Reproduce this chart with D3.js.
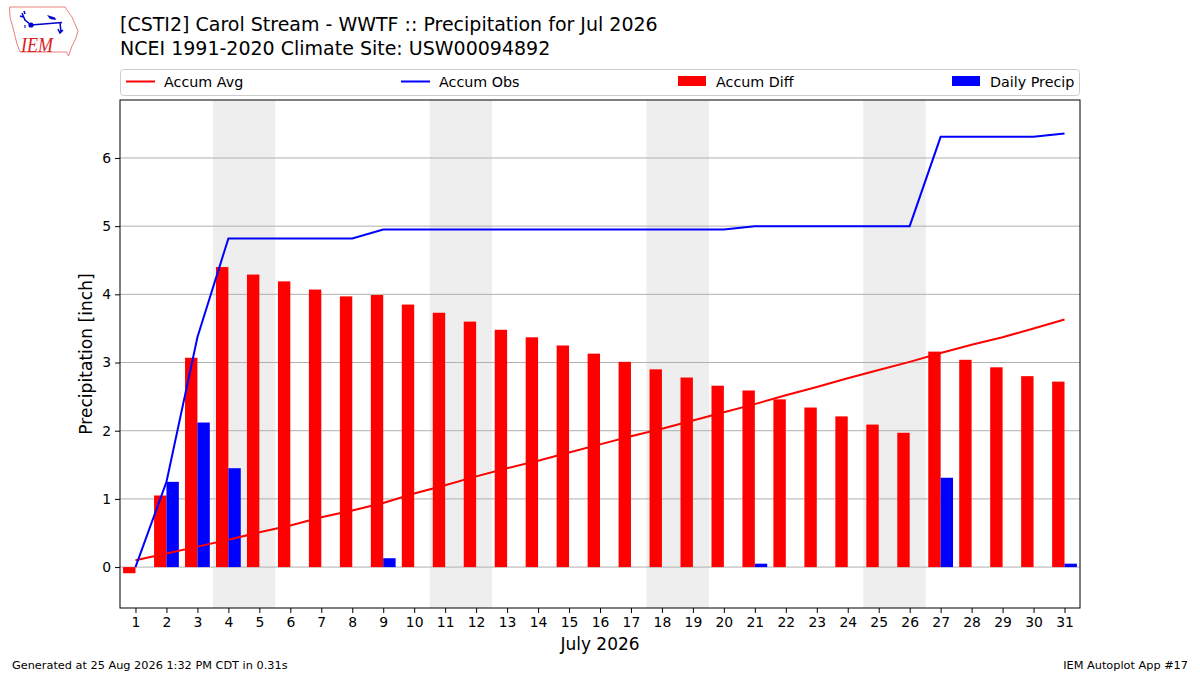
<!DOCTYPE html>
<html>
<head>
<meta charset="utf-8">
<script src="https://cdn.jsdelivr.net/npm/d3@7"></script>
<style>
html,body{margin:0;padding:0;background:#fff;}
svg{display:block;font-family:"DejaVu Sans",sans-serif;}
</style>
</head>
<body>
<svg id="chart" width="1200" height="675"></svg>
<script>
const days = d3.range(1, 32);
const dailyPrecip = [0,1.25,2.12,1.45,0,0,0,0,0.13,0,0,0,0,0,0,0,0,0,0,0,0.05,0,0,0,0,0,1.31,0,0,0,0.05];
const accumObs = [0,1.25,3.37,4.82,4.82,4.82,4.82,4.82,4.95,4.95,4.95,4.95,4.95,4.95,4.95,4.95,4.95,4.95,4.95,4.95,5.00,5.00,5.00,5.00,5.00,5.00,6.31,6.31,6.31,6.31,6.36];
const accumAvg = [0.10,0.20,0.30,0.40,0.51,0.61,0.73,0.83,0.94,1.08,1.20,1.33,1.45,1.56,1.68,1.80,1.92,2.03,2.15,2.27,2.39,2.52,2.64,2.77,2.89,3.01,3.14,3.26,3.37,3.50,3.63];
const accumDiff = [-0.09,1.05,3.07,4.40,4.29,4.19,4.07,3.97,3.99,3.85,3.73,3.60,3.48,3.37,3.25,3.13,3.01,2.90,2.78,2.66,2.59,2.46,2.34,2.21,2.09,1.97,3.16,3.04,2.93,2.80,2.72];
const yTicks = [0,1,2,3,4,5,6];
const legendLabels = ["Accum Avg","Accum Obs","Accum Diff","Daily Precip"];
const titleLines = ["[CSTI2] Carol Stream - WWTF :: Precipitation for Jul 2026","NCEI 1991-2020 Climate Site: USW00094892"];

const svg = d3.select("#chart");
const L = 120, R = 1080, T = 100, B = 608;
const x = d3.scaleLinear().domain([0.5, 31.5]).range([L, R]);
const y = d3.scaleLinear().domain([-0.6, 6.85]).range([B, T]);
const dayW = x(1) - x(0);

// weekend shading
const weekend = days.filter(d => { const w = new Date(2026, 6, d).getDay(); return w === 0 || w === 6; });
svg.append("g").selectAll("rect").data(weekend).join("rect")
  .attr("x", d => x(d - 0.5)).attr("width", dayW + 0.5)
  .attr("y", T).attr("height", B - T).attr("fill", "#eeeeee");

// grid
svg.append("g").selectAll("line").data(yTicks).join("line")
  .attr("x1", L).attr("x2", R).attr("y1", d => y(d)).attr("y2", d => y(d))
  .attr("stroke", "#b0b0b0").attr("stroke-width", 1);

// bars
svg.append("g").selectAll("rect").data(days).join("rect")
  .attr("x", d => x(d - 0.4)).attr("width", x(0.4) - x(0))
  .attr("y", (d,i) => y(Math.max(0, accumDiff[i])))
  .attr("height", (d,i) => Math.abs(y(accumDiff[i]) - y(0)))
  .attr("fill", "#ff0000");
svg.append("g").selectAll("rect").data(days.filter((d,i)=>dailyPrecip[i]>0)).join("rect")
  .attr("x", d => x(d)).attr("width", x(0.4) - x(0))
  .attr("y", d => y(dailyPrecip[d-1]))
  .attr("height", d => y(0) - y(dailyPrecip[d-1]))
  .attr("fill", "#0000ff");

// lines
const line = arr => d3.line().x((d,i) => x(days[i])).y(d => y(d))(arr);
svg.append("path").attr("d", line(accumAvg)).attr("fill","none").attr("stroke","#ff0000").attr("stroke-width",2);
svg.append("path").attr("d", line(accumObs)).attr("fill","none").attr("stroke","#0000ff").attr("stroke-width",2);

// frame
svg.append("rect").attr("x", L).attr("y", T).attr("width", R-L).attr("height", B-T)
  .attr("fill","none").attr("stroke","#000").attr("stroke-width",1);

// axes
const xAxis = d3.axisBottom(x).tickValues(days).tickFormat(d3.format("d")).tickSize(5).tickPadding(4);
const gx = svg.append("g").attr("transform", `translate(0,${B})`).call(xAxis);
gx.select(".domain").remove();
gx.selectAll("text").attr("font-size", 13.9).attr("font-family","DejaVu Sans").attr("fill","#000");
const yAxis = d3.axisLeft(y).tickValues(yTicks).tickFormat(d3.format("d")).tickSize(5).tickPadding(4);
const gy = svg.append("g").attr("transform", `translate(${L},0)`).call(yAxis);
gy.select(".domain").remove();
gy.selectAll("text").attr("font-size", 13.9).attr("font-family","DejaVu Sans").attr("fill","#000");

// axis labels
svg.append("text").attr("x", (L+R)/2).attr("y", 650).attr("text-anchor","middle")
  .attr("font-size", 17).text("July 2026");
svg.append("text").attr("transform", `translate(92,${(T+B)/2}) rotate(-90)`).attr("text-anchor","middle")
  .attr("font-size", 17.1).text("Precipitation [inch]");

// title
svg.append("g").selectAll("text").data(titleLines).join("text")
  .attr("x", 120).attr("y", (d,i) => 31 + i*24).attr("font-size", 19).text(d => d);

// legend
const lg = svg.append("g");
lg.append("rect").attr("x", 120.5).attr("y", 69.5).attr("width", 959).attr("height", 26).attr("rx", 3)
  .attr("fill","#fff").attr("stroke","#cccccc");
const lx = [126, 401, 678, 952];
const lcol = ["#ff0000","#0000ff","#ff0000","#0000ff"];
legendLabels.forEach((lab, i) => {
  if (i < 2) {
    lg.append("line").attr("x1", lx[i]).attr("x2", lx[i]+29).attr("y1", 81.5).attr("y2", 81.5)
      .attr("stroke", lcol[i]).attr("stroke-width", 2);
  } else {
    lg.append("rect").attr("x", lx[i]).attr("y", 76).attr("width", 28).attr("height", 10).attr("fill", lcol[i]);
  }
  lg.append("text").attr("x", lx[i]+38).attr("y", 86.5).attr("font-size", 14.3).text(lab);
});

// footer
svg.append("text").attr("x", 12).attr("y", 669).attr("font-size", 11.3).text("Generated at 25 Aug 2026 1:32 PM CDT in 0.31s");
svg.append("text").attr("x", 1188).attr("y", 669).attr("text-anchor","end").attr("font-size", 11.3).text("IEM Autoplot App #17");

// logo
const logo = svg.append("g");
logo.append("path").attr("d","M9.5,7 L65,7 L68,11.5 L72,17 L78,31 L75.5,39 L72,46 L68.5,56 L66.5,52 L20,52 L17,44 L13.5,30 L10,17 Z")
  .attr("fill","#fff").attr("stroke","#e88080").attr("stroke-width",1);
logo.append("text").attr("x", 21).attr("y", 51.5).attr("font-family","Liberation Serif, serif").attr("font-style","italic")
  .attr("font-size", 22).attr("fill","#dd2020").attr("textLength", 32).attr("lengthAdjust","spacingAndGlyphs").text("IEM");
logo.append("path").attr("d","M31,25 L62,22.5 M60,22.5 L61,32 M58,29 L60,33 L63,30 M22,13 L25,20 L31,25 M20,16 L23,17 M24,11 L25,14")
  .attr("stroke","#0000cc").attr("stroke-width",1.5).attr("fill","none");
logo.append("circle").attr("cx", 31).attr("cy", 25).attr("r", 2.6).attr("fill","#0000cc");
logo.append("path").attr("d","M47,15 L55,17.5 L56,20 L50,19 Z").attr("fill","#0000cc");
logo.append("path").attr("d","M24,27 L26,27 M25,25 L25,26").attr("stroke","#0000cc").attr("stroke-width",1.2);
</script>
</body>
</html>
